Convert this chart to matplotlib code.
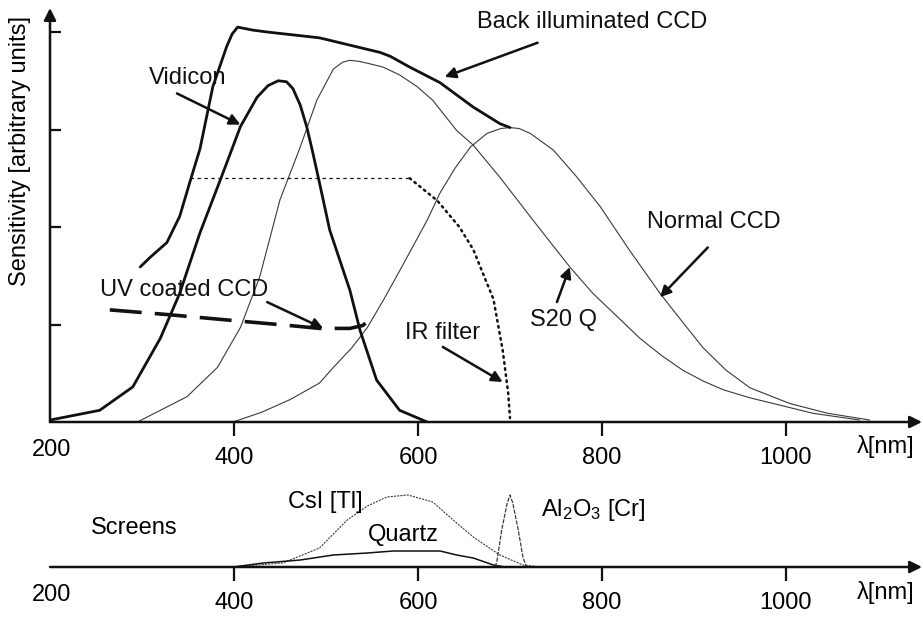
import matplotlib
matplotlib.use("Agg")
import matplotlib.pyplot as plt

plt.rcParams["font.family"] = ["Liberation Sans", "DejaVu Sans"]
plt.rcParams["mathtext.default"] = "regular"
plt.rcParams["lines.scale_dashes"] = False

# ---------------- data (wavelength in nm, sensitivity in arbitrary units) ----------------
vidicon_nm = [200, 254, 290, 320, 341, 363, 385, 407, 425, 437, 448, 457, 464, 472, 479, 485, 493, 504, 526, 537, 555, 580, 610]
vidicon_s = [0.02, 0.12, 0.36, 0.86, 1.32, 1.94, 2.48, 3.03, 3.33, 3.45, 3.50, 3.49, 3.42, 3.25, 3.03, 2.79, 2.45, 1.97, 1.35, 0.94, 0.43, 0.12, 0.0]

back_ccd_nm = [298, 309, 327, 341, 352, 363, 377, 392, 398, 404, 420, 436, 493, 559, 570, 591, 624, 660, 689, 700]
back_ccd_s = [1.59, 1.69, 1.84, 2.11, 2.46, 2.80, 3.44, 3.85, 3.98, 4.05, 4.02, 4.00, 3.94, 3.79, 3.75, 3.64, 3.48, 3.23, 3.06, 3.02]

s20q_nm = [295, 349, 382, 407, 428, 450, 472, 490, 508, 518, 526, 535, 545, 562, 580, 599, 616, 642, 660, 689, 725, 765, 790, 820, 841, 865, 888, 910, 932, 960, 986, 1029, 1080]
s20q_s = [0.0, 0.26, 0.56, 0.97, 1.49, 2.28, 2.82, 3.30, 3.62, 3.69, 3.71, 3.70, 3.68, 3.64, 3.56, 3.44, 3.30, 2.99, 2.84, 2.51, 2.07, 1.59, 1.32, 1.05, 0.86, 0.68, 0.53, 0.42, 0.33, 0.25, 0.19, 0.09, 0.02]

normal_ccd_nm = [399, 430, 461, 493, 508, 528, 545, 563, 580, 610, 624, 640, 657, 675, 690, 700, 710, 722, 747, 772, 798, 830, 863, 888, 910, 935, 961, 1004, 1045, 1091]
normal_ccd_s = [0.0, 0.10, 0.23, 0.40, 0.56, 0.76, 0.97, 1.26, 1.55, 2.07, 2.35, 2.60, 2.82, 2.96, 3.01, 3.02, 3.01, 2.96, 2.79, 2.52, 2.21, 1.76, 1.32, 1.02, 0.76, 0.53, 0.35, 0.19, 0.09, 0.02]

ir_flat_nm = [352, 591]
ir_flat_s = [2.50, 2.50]
ir_edge_nm = [591, 621, 645, 660, 682, 692, 698, 700]
ir_edge_s = [2.50, 2.27, 2.00, 1.77, 1.26, 0.74, 0.30, 0.04]

uv_ccd_nm = [265, 330, 400, 460, 493, 526, 540, 545]
uv_ccd_s = [1.15, 1.10, 1.04, 0.99, 0.96, 0.96, 0.99, 1.03]

# screens (relative emission)
csi_nm = [399, 453, 493, 523, 545, 566, 589, 616, 642, 660, 689, 714, 733]
csi_s = [0.0, 0.04, 0.19, 0.47, 0.61, 0.70, 0.72, 0.65, 0.44, 0.30, 0.12, 0.02, 0.0]

quartz_nm = [399, 432, 472, 508, 545, 573, 624, 642, 660, 682, 695]
quartz_s = [0.0, 0.04, 0.07, 0.12, 0.14, 0.16, 0.16, 0.12, 0.09, 0.02, 0.0]

al2o3_nm = [684, 686, 691, 697, 700, 703, 709, 714, 718]
al2o3_s = [0.0, 0.07, 0.37, 0.64, 0.72, 0.64, 0.37, 0.10, 0.0]

x_ticks = [400, 600, 800, 1000]
x_tick_labels = ["400", "600", "800", "1000"]
y_ticks = [1, 2, 3, 4]

# ---------------- layout ----------------
W, H = 923, 619
fig = plt.figure(figsize=(W / 100, H / 100), dpi=100)


def px_axes(left, top, right, bottom):
    return fig.add_axes([left / W, 1 - bottom / H, (right - left) / W, (bottom - top) / H])


X_MIN = 200
X_MAX = 200 + 872 / 0.92
INK = "#111111"
THIN = "#3a3a3a"
FS = 17
CURVE = dict(solid_joinstyle="round", solid_capstyle="round")


def axis_arrow(a, start, end):
    a.annotate("", xy=end, xytext=start, xycoords="axes fraction",
               arrowprops=dict(arrowstyle="-|>", lw=1.8, color=INK, mutation_scale=18,
                               shrinkA=0, shrinkB=0),
               annotation_clip=False)


def setup_x(a):
    a.set_xlim(X_MIN, X_MAX)
    for s in a.spines.values():
        s.set_visible(False)
    a.set_xticks(x_ticks)
    a.set_xticklabels(x_tick_labels, fontsize=FS)
    a.tick_params(axis="x", direction="out", length=10, width=1.6, color=INK, pad=8)
    a.patch.set_alpha(0)
    axis_arrow(a, (0, 0), (1.0, 0))
    a.annotate("200", xy=(200, 0), xycoords=("data", "axes fraction"), xytext=(2, -28),
               textcoords="offset pixels", ha="center", va="center", fontsize=FS)
    a.annotate("λ[nm]", xy=(1.0, 0), xycoords="axes fraction", xytext=(-36, -25),
               textcoords="offset pixels", ha="center", va="center", fontsize=FS)


# main sensitivity panel
ax = px_axes(50, 8, 922, 422)
setup_x(ax)
ax.set_ylim(0, 414 / 97.5)
ax.set_yticks(y_ticks)
ax.set_yticklabels([])
ax.tick_params(axis="y", direction="in", length=8, width=1.6, color=INK)
axis_arrow(ax, (0, 0), (0, 1.0))

ax.plot(s20q_nm, s20q_s, color=THIN, lw=0.8, **CURVE)
ax.plot(normal_ccd_nm, normal_ccd_s, color=THIN, lw=0.8, **CURVE)
ax.plot(vidicon_nm, vidicon_s, color=INK, lw=2.0, **CURVE)
ax.plot(back_ccd_nm, back_ccd_s, color=INK, lw=2.0, **CURVE)
ax.plot(ir_flat_nm, ir_flat_s, color=INK, lw=0.9, dashes=(2.5, 2.5))
ax.plot(ir_edge_nm, ir_edge_s, color=INK, lw=1.8, dashes=(1.2, 3.2), dash_capstyle="round")
ax.plot(uv_ccd_nm, uv_ccd_s, color=INK, lw=2.6, dashes=(23, 9.5))

fig.text(20 / W, 1 - 151 / H, "Sensitivity [arbitrary units]", fontsize=FS,
         rotation=90, ha="center", va="center")

labels = [
    ("Vidicon", (350, 3.53), (338, 3.37), (407, 3.05)),
    ("Back illuminated CCD", (789, 4.10), (730, 3.89), (629, 3.54)),
    ("Normal CCD", (921, 2.05), (915, 1.79), (863, 1.28)),
    ("UV coated CCD", (346, 1.35), (436, 1.23), (497, 0.96)),
    ("IR filter", (627, 0.91), (627, 0.77), (692, 0.41)),
    ("S20 Q", (758, 1.05), (751, 1.23), (765, 1.59)),
]
for text, pos, tail, tip in labels:
    ax.text(pos[0], pos[1], text, fontsize=FS, ha="center", va="center", color=INK)
    ax.annotate("", xy=tip, xytext=tail,
                arrowprops=dict(arrowstyle="-|>", lw=1.8, color=INK, mutation_scale=16,
                                shrinkA=0, shrinkB=0))

# screens panel
ax2 = px_axes(50, 467, 922, 567)
setup_x(ax2)
ax2.set_ylim(0, 1)
ax2.set_yticks([])
ax2.plot(csi_nm, csi_s, color=THIN, lw=0.8, dashes=(1.5, 0.8))
ax2.plot(quartz_nm, quartz_s, color=INK, lw=1.1, **CURVE)
ax2.plot(al2o3_nm, al2o3_s, color=THIN, lw=0.9, dashes=(3, 1))

ax2.text(292, 0.39, "Screens", fontsize=FS, ha="center", va="center")
ax2.text(499, 0.65, "CsI [Tl]", fontsize=FS, ha="center", va="center")
ax2.text(584, 0.32, "Quartz", fontsize=FS, ha="center", va="center")
ax2.text(790, 0.57, "Al$_2$O$_3$ [Cr]", fontsize=FS, ha="center", va="center")

fig.savefig("out.png", dpi=100)
